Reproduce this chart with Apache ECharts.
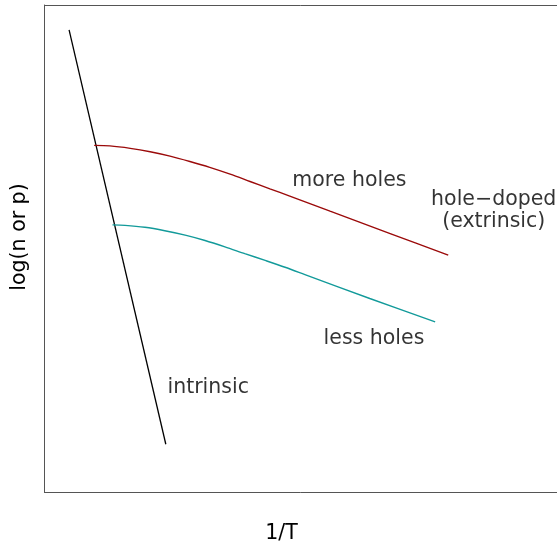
<!DOCTYPE html>
<html>
<head>
<meta charset="utf-8">
<script src="https://cdn.jsdelivr.net/npm/echarts@6/dist/echarts.min.js"></script>
<style>html,body{margin:0;padding:0;background:#fff;}#c{width:557px;height:547px;}</style>
</head>
<body>
<div id="c"></div>
<script>
// 1/T (arbitrary units) and log(n or p) (arbitrary units)
const intrinsicX = [0.47, 2.32];
const intrinsicY = [9.49, 0.99];

const moreHolesX = [0.95, 1.25, 1.64, 2.02, 2.40, 2.78, 3.16, 3.55, 3.93, 4.31, 4.69, 5.46, 6.61, 7.72];
const moreHolesY = [7.12, 7.11, 7.06, 6.99, 6.90, 6.79, 6.67, 6.53, 6.38, 6.23, 6.08, 5.77, 5.31, 4.87];

const lessHolesX = [1.30, 1.54, 1.92, 2.30, 2.69, 3.07, 3.45, 3.83, 4.22, 4.60, 4.98, 6.22, 7.47];
const lessHolesY = [5.49, 5.48, 5.44, 5.37, 5.28, 5.17, 5.04, 4.90, 4.76, 4.62, 4.47, 3.98, 3.50];

const labelTexts = ['more holes', 'hole\u2212doped\n(extrinsic)', 'less holes', 'intrinsic'];
const labelX = [5.83, 8.59, 6.30, 3.13];
const labelY = [6.39, 5.79, 3.15, 2.16];

const xTitle = '1/T';
const yTitle = 'log(n or p)';

const zip = (xs, ys) => xs.map((x, i) => [x, ys[i]]);
const FONT = '"DejaVu Sans", sans-serif';
const FRAME = {show: true, lineStyle: {color: '#555', width: 1}};
const hidden = {axisTick: {show: false}, axisLabel: {show: false}, splitLine: {show: false}};

const chart = echarts.init(document.getElementById('c'), null, {renderer: 'canvas'});
chart.setOption({
  animation: false,
  backgroundColor: '#fff',
  grid: {left: 44.5, top: 5, bottom: 54.5, right: 0},
  xAxis: [
    Object.assign({type: 'value', min: 0, max: 9.8, position: 'bottom', axisLine: FRAME}, hidden),
    Object.assign({type: 'value', min: 0, max: 9.8, position: 'top', axisLine: FRAME}, hidden)
  ],
  yAxis: Object.assign({type: 'value', min: 0, max: 10, position: 'left', axisLine: FRAME}, hidden),
  series: [
    {
      type: 'line', data: zip(intrinsicX, intrinsicY), showSymbol: false,
      lineStyle: {color: '#000', width: 1.3}
    },
    {
      type: 'line', data: zip(moreHolesX, moreHolesY), showSymbol: false, smooth: 0.3,
      lineStyle: {color: '#9b0a0a', width: 1.4}
    },
    {
      type: 'line', data: zip(lessHolesX, lessHolesY), showSymbol: false, smooth: 0.3,
      lineStyle: {color: '#129a9a', width: 1.4}
    },
    {
      type: 'scatter', symbolSize: 0, silent: true,
      data: labelTexts.map((t, i) => ({value: [labelX[i], labelY[i]], name: t})),
      label: {
        show: true, position: 'inside', formatter: p => p.name,
        color: '#000', fontFamily: FONT, fontSize: 20.5, lineHeight: 22, align: 'center', verticalAlign: 'middle'
      }
    }
  ],
  graphic: [
    {type: 'text', x: 281.5, y: 534, style: {text: xTitle, font: '20.5px ' + FONT, fill: '#000', align: 'center', verticalAlign: 'middle'}},
    {type: 'text', x: 20, y: 237, rotation: Math.PI / 2, style: {text: yTitle, font: '20.5px ' + FONT, fill: '#000', align: 'center', verticalAlign: 'middle'}}
  ]
});
</script>
</body>
</html>
